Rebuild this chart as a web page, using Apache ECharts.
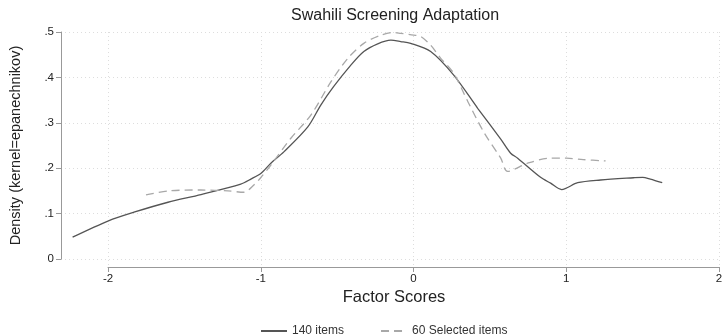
<!DOCTYPE html>
<html>
<head>
<meta charset="utf-8">
<script src="https://cdn.jsdelivr.net/npm/echarts@6/dist/echarts.min.js"></script>
<style>html,body{margin:0;padding:0;background:#fff;}#c{width:727px;height:334px;}</style>
</head>
<body>
<div id="c"></div>
<script>
const titleText = 'Swahili Screening Adaptation';
const xTitle = 'Factor Scores';
const yTitle = 'Density (kernel=epanechnikov)';
const seriesNames = ['140 items', '60 Selected items'];
const yTickLabels = ['0', '.1', '.2', '.3', '.4', '.5'];
const xTickValues = [-2, -1, 0, 1, 2];

const allX = [-2.235, -2.0, -1.833, -1.61, -1.394, -1.133, -1.067, -1.0, -0.936, -0.851, -0.694, -0.609, -0.524, -0.412, -0.327, -0.236, -0.15, -0.085, -0.02, 0.111, 0.262, 0.419, 0.57, 0.635, 0.681, 0.831, 0.897, 0.969, 1.074, 1.224, 1.44, 1.5, 1.55, 1.628];
const allY = [0.048, 0.084, 0.103, 0.125, 0.142, 0.165, 0.176, 0.189, 0.211, 0.236, 0.291, 0.339, 0.380, 0.427, 0.457, 0.474, 0.482, 0.479, 0.475, 0.457, 0.405, 0.332, 0.264, 0.233, 0.222, 0.18, 0.167, 0.153, 0.168, 0.174, 0.179, 0.180, 0.176, 0.168];

const selX = [-1.754, -1.61, -1.394, -1.218, -1.113, -1.047, -1.0, -0.936, -0.805, -0.674, -0.543, -0.432, -0.327, -0.216, -0.13, -0.085, 0.0, 0.046, 0.111, 0.177, 0.262, 0.354, 0.458, 0.57, 0.615, 0.746, 0.897, 1.0, 1.11, 1.257];
const selY = [0.141, 0.150, 0.152, 0.150, 0.147, 0.163, 0.180, 0.207, 0.266, 0.317, 0.390, 0.442, 0.475, 0.493, 0.499, 0.497, 0.493, 0.490, 0.471, 0.442, 0.409, 0.347, 0.280, 0.222, 0.193, 0.211, 0.222, 0.222, 0.219, 0.216];

const font = 'Liberation Sans, Arial, Helvetica, sans-serif';
const chart = echarts.init(document.getElementById('c'), null, {renderer: 'canvas'});
const zip = (xs, ys) => xs.map((x, i) => [x, ys[i]]);

chart.setOption({
  animation: false,
  backgroundColor: '#fff',
  title: {
    text: titleText, left: 286, top: 3,
    textStyle: {fontFamily: font, fontSize: 16, fontWeight: 'normal', color: '#222'}
  },
  legend: {
    left: 255, top: 320, itemWidth: 26, itemHeight: 10, itemGap: 36,
    textStyle: {fontFamily: font, fontSize: 12, color: '#333'},
    itemStyle: {opacity: 0},
    data: seriesNames
  },
  grid: [
    {left: 60, right: 8, top: 32, bottom: 75},
    {left: 108, right: 8, top: 32, bottom: 67}
  ],
  xAxis: [
    {
      type: 'value', gridIndex: 0, min: -2.311, max: 2,
      axisLine: {show: false}, axisTick: {show: false}, axisLabel: {show: false}, splitLine: {show: false},
      name: xTitle, nameLocation: 'middle', nameGap: 30,
      nameTextStyle: {fontFamily: font, fontSize: 16.5, color: '#222', padding: [0, 0, 0, 8]}
    },
    {
      type: 'value', gridIndex: 1, min: xTickValues[0], max: xTickValues[xTickValues.length - 1], interval: 1,
      axisLine: {show: true, onZero: false, lineStyle: {color: '#999', width: 1}},
      axisTick: {show: true, length: 5, lineStyle: {color: '#999'}},
      axisLabel: {fontFamily: font, fontSize: 11.5, color: '#222', margin: 6},
      splitLine: {show: true, lineStyle: {color: '#ddd', type: [1, 3], width: 1}}
    }
  ],
  yAxis: [
    {
      type: 'value', gridIndex: 0, min: 0, max: 0.5, interval: 0.1,
      axisLine: {show: true, onZero: false, lineStyle: {color: '#999', width: 1}},
      axisTick: {show: true, length: 5, lineStyle: {color: '#999'}},
      axisLabel: {fontFamily: font, fontSize: 11.5, color: '#222', margin: 7,
        formatter: v => yTickLabels[Math.round(v * 10)]},
      splitLine: {show: true, lineStyle: {color: '#ddd', type: [1, 3], width: 1}},
      name: yTitle, nameLocation: 'middle', nameGap: 38,
      nameTextStyle: {fontFamily: font, fontSize: 14.5, color: '#222'}
    },
    {type: 'value', gridIndex: 1, min: 0, max: 1, show: false}
  ],
  series: [
    {
      name: seriesNames[0], type: 'line', xAxisIndex: 0, yAxisIndex: 0,
      data: zip(allX, allY), symbol: 'none', smooth: 0.3,
      lineStyle: {color: '#555', width: 1.3}, itemStyle: {color: '#555'}
    },
    {
      name: seriesNames[1], type: 'line', xAxisIndex: 0, yAxisIndex: 0,
      data: zip(selX, selY), symbol: 'none', smooth: 0.3,
      lineStyle: {color: '#a8a8a8', width: 1.3, type: [8, 5]}, itemStyle: {color: '#a8a8a8'}
    }
  ]
});
</script>
</body>
</html>
